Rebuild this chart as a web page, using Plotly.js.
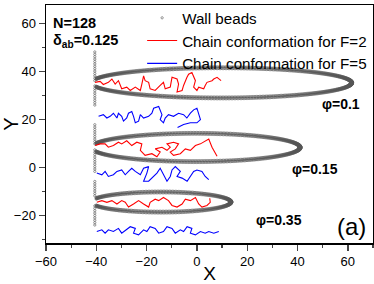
<!DOCTYPE html>
<html>
<head>
<meta charset="utf-8">
<script src="https://cdn.plot.ly/plotly-3.0.1.min.js"></script>
<style>html,body{margin:0;padding:0;background:#fff;}#chart{width:374px;height:284px;}</style>
</head>
<body>
<div id="chart"></div>
<script>
// ---- Wall beads geometry ----
const wallX = -40.6;
const wallLo = [36.2, 26.0, 9.8, -1.7, -11.9, -24.1];
const wallHi = [48.3, 34.1, 17.9, 7.5, -5.0, -15.2];
const ellXc = [9.75, -0.5, -14.25];
const ellYc = [35.3, 8.3, -14.5];
const ellA = [51.75, 41.5, 27.75];
const ellB = [6.3, 5.9, 4.2];
const phiLabels = ['φ=0.1', 'φ=0.15', 'φ=0.35'];

// ---- Chain conformations, F=2 (red) ----
const red1X = [-40.5,-38.5,-37.2,-35.2,-33.8,-32.5,-31.2,-29.9,-27.9,-26.5,-24.5,-22.5,-21.9,-21.2,-20.6,-19.2,-18.6,-16.6,-14.6,-13.3,-12.6,-10.6,-9.9,-7.9,-7.3,-7.9,-5.9,-5.3,-4.0,-3.3,-2.0,-1.3,-0.6,-1.3,0.0,0.7,2.7,3.3,4.0,6.0,6.7,8.0,9.3,9.6];
const red1Y = [35.5,35.9,34.6,35.5,36.9,34.8,36.2,32.8,33.5,32.1,33.5,32.1,34.8,38.2,36.2,35.5,32.8,32.1,34.2,35.5,32.8,33.5,37.6,36.9,34.8,31.5,32.1,34.2,37.5,38.9,39.6,38.2,36.2,33.5,32.1,33.5,32.8,34.2,35.5,36.2,36.9,37.6,36.5,36.2];
const red2X = [-40.5,-38.5,-36.5,-35.2,-33.2,-31.2,-29.9,-27.9,-25.9,-23.9,-21.9,-22.5,-20.6,-17.9,-15.9,-14.6,-16.6,-13.9,-11.9,-10.6,-11.9,-9.3,-7.3,-8.6,-10.6,-9.3,-6.6,-4.6,-2.6,-0.6,1.4,3.3,4.7,6.0,7.3,8.0];
const red2Y = [9.1,9.8,9.8,8.4,9.1,10.5,9.8,11.1,9.1,10.5,9.8,7.1,5.0,5.7,4.4,6.4,7.7,8.4,7.1,8.4,9.8,10.5,9.8,7.7,6.4,5.0,5.7,7.7,7.1,9.1,9.8,11.1,11.8,8.4,5.7,4.6];
const red3X = [-39.8,-37.8,-35.8,-33.8,-31.8,-29.9,-28.5,-27.2,-25.2,-23.2,-21.2,-19.2,-18.6,-16.6,-15.2,-13.3,-11.3,-9.9,-7.9,-5.9,-4.6,-2.6,-0.6,0.7,2.0,4.0,5.3,5.1];
const red3Y = [-14.6,-13.9,-14.6,-13.9,-15.3,-13.9,-14.6,-16.6,-15.3,-13.9,-15.3,-16.6,-14.6,-13.3,-13.9,-12.6,-13.9,-15.9,-16.6,-15.3,-13.3,-13.9,-12.6,-15.3,-16.6,-15.9,-14.6,-12.9];

// ---- Chain conformations, F=5 (blue) ----
const blue1X = [-39.1,-37.2,-35.8,-34.5,-33.2,-31.8,-31.2,-29.9,-29.2,-27.9,-27.2,-25.9,-25.2,-24.5,-23.2,-22.5,-21.2,-19.2,-17.9,-17.2,-15.2,-14.6,-13.9,-14.6,-13.3,-12.6,-11.3,-9.3,-7.3,-5.3,-4.0,-2.6,-1.3,0.0,0.7,1.4,0.0,-2.6,-5.3,-7.7];
const blue1Y = [21.3,22.0,20.6,21.3,22.6,20.6,22.6,21.3,19.3,20.6,22.6,23.3,21.3,18.6,19.3,22.0,20.6,21.3,22.6,24.7,25.4,24.0,22.0,19.9,18.6,20.6,22.0,21.3,22.6,22.0,20.6,22.6,24.0,24.7,22.6,19.9,18.6,18.6,17.9,16.6];
const blue2X = [-39.8,-37.8,-36.5,-35.2,-33.2,-31.8,-29.9,-28.5,-27.2,-25.9,-24.5,-22.5,-21.2,-19.2,-19.9,-21.2,-19.2,-17.2,-15.9,-14.6,-13.3,-11.9,-10.6,-9.9,-8.6,-6.6,-7.9,-5.9,-3.9,-2.6,-1.3,0.0,2.0,3.3,4.7];
const blue2Y = [-2.4,-3.1,-1.7,-3.8,-3.1,-1.7,-1.1,-3.1,-1.7,-0.4,-1.7,-3.1,-0.4,0.3,-2.4,-5.8,-5.8,-3.8,-2.4,-0.4,-3.1,-5.8,-3.8,-1.1,0.3,-1.7,-3.8,-4.5,-5.8,-3.8,-1.7,-1.1,-1.7,-3.8,-5.1];
const blue3X = [-39.8,-37.8,-36.5,-35.2,-33.2,-31.2,-29.9,-27.9,-26.5,-24.5,-25.2,-23.2,-21.2,-19.9,-18.6,-16.6,-15.2,-13.3,-11.9,-9.9,-8.6,-6.6,-5.3,-3.9,-2.0,-2.6,-0.6,1.4,3.3,4.7,6.7,8.7];
const blue3Y = [-26.8,-26.1,-27.5,-26.1,-26.8,-25.5,-27.5,-26.1,-24.8,-25.5,-27.5,-28.2,-26.1,-26.8,-24.8,-25.5,-27.5,-26.8,-24.8,-25.5,-27.5,-26.1,-26.8,-24.8,-25.5,-27.5,-28.2,-26.8,-27.5,-26.8,-27.5,-26.8];

// ---- build wall bead coordinates ----
const beadX = [], beadY = [];
for (let s = 0; s < wallLo.length; s++) {
  for (let y = wallLo[s]; y <= wallHi[s] + 1e-6; y += 1.0) { beadX.push(wallX); beadY.push(y); }
}
for (let e = 0; e < ellXc.length; e++) {
  for (const off of [-0.35, 0.35]) {
    const a = ellA[e] + off, b = ellB[e] + off;
    const n = Math.round(2 * Math.PI * a / 0.6);
    for (let k = 0; k < n; k++) {
      const t = 2 * Math.PI * k / n;
      const x = ellXc[e] + a * Math.cos(t);
      if (x < wallX + 0.4) continue;
      beadX.push(x); beadY.push(ellYc[e] + b * Math.sin(t));
    }
  }
}
function join(arrs) { const out = []; arrs.forEach((a, i) => { if (i) out.push(null); out.push(...a); }); return out; }

const F = 'Arial, "Liberation Sans", sans-serif';
const traces = [
  {x: beadX, y: beadY, mode: 'markers', name: 'Wall beads', type: 'scatter',
   marker: {symbol: 'circle-open', size: 2.3, color: '#555', line: {width: 0.6, color: '#555'}}},
  {x: join([red1X, red2X, red3X]), y: join([red1Y, red2Y, red3Y]), mode: 'lines', type: 'scatter',
   name: 'Chain conformation for F=2', line: {color: '#ff0000', width: 1.1}, connectgaps: false},
  {x: join([blue1X, blue2X, blue3X]), y: join([blue1Y, blue2Y, blue3Y]), mode: 'lines', type: 'scatter',
   name: 'Chain conformation for F=5', line: {color: '#0000ff', width: 1.1}, connectgaps: false}
];

const xr = [-60, 70], yr = [-31.6, 67.8];
const ann = [
  {text: '<b>N=128</b>', x: -58.2, y: 60.1, xanchor: 'left', font: {size: 14.5}},
  {text: '<b>δ<sub>ab</sub>=0.125</b>', x: -58.2, y: 52.6, xanchor: 'left', font: {size: 14.5}},
  {text: '<b>' + phiLabels[0] + '</b>', x: 57.3, y: 26.3, font: {size: 14}},
  {text: '<b>' + phiLabels[1] + '</b>', x: 47.0, y: -0.6, font: {size: 14}},
  {text: '<b>' + phiLabels[2] + '</b>', x: 32.5, y: -21.9, font: {size: 14}},
  {text: '(a)', x: 61.3, y: -24.6, font: {size: 24}}
].map(a => Object.assign({xref: 'x', yref: 'y', showarrow: false, yanchor: 'middle'}, a,
  {font: Object.assign({family: F, color: '#000'}, a.font)}));

const layout = {
  width: 374, height: 284,
  margin: {l: 46, r: 1, t: 1, b: 41},
  paper_bgcolor: '#fff', plot_bgcolor: '#fff',
  font: {family: F, color: '#000', size: 13},
  showlegend: true,
  legend: {x: 0.294, y: 1.015, xanchor: 'left', yanchor: 'top', bgcolor: 'rgba(0,0,0,0)',
           font: {size: 15.2}, tracegroupgap: 0, itemwidth: 30},
  xaxis: {range: xr, tick0: -60, dtick: 20, ticks: 'outside', ticklen: 6, tickwidth: 1.3,
          showline: true, linewidth: 1.5, linecolor: '#000', mirror: true, showgrid: false, zeroline: false,
          minor: {dtick: 10, ticks: 'outside', ticklen: 3, tickwidth: 1.3},
          tickfont: {size: 13}, title: {text: 'X', font: {size: 19}, standoff: 12}},
  yaxis: {range: yr, tick0: 0, dtick: 20, ticks: 'outside', ticklen: 6, tickwidth: 1.3,
          showline: true, linewidth: 1.5, linecolor: '#000', mirror: true, showgrid: false, zeroline: false,
          minor: {dtick: 10, ticks: 'outside', ticklen: 3, tickwidth: 1.3},
          tickfont: {size: 13}, title: {text: 'Y', font: {size: 20}, standoff: 10}},
  xaxis2: {range: xr, overlaying: 'x', side: 'top', anchor: 'y', tick0: -60, dtick: 20, ticks: 'inside',
           ticklen: 5, tickwidth: 1.3, showticklabels: false, showgrid: false, zeroline: false, showline: false,
           minor: {dtick: 10, ticks: 'inside', ticklen: 3, tickwidth: 1.3}},
  yaxis2: {range: yr, overlaying: 'y', side: 'right', anchor: 'x', tick0: 0, dtick: 20, ticks: 'inside',
           ticklen: 5, tickwidth: 1.3, showticklabels: false, showgrid: false, zeroline: false, showline: false,
           minor: {dtick: 10, ticks: 'inside', ticklen: 3, tickwidth: 1.3}},
  annotations: ann
};
Plotly.newPlot('chart', traces, layout, {staticPlot: true, displayModeBar: false});
</script>
</body>
</html>
